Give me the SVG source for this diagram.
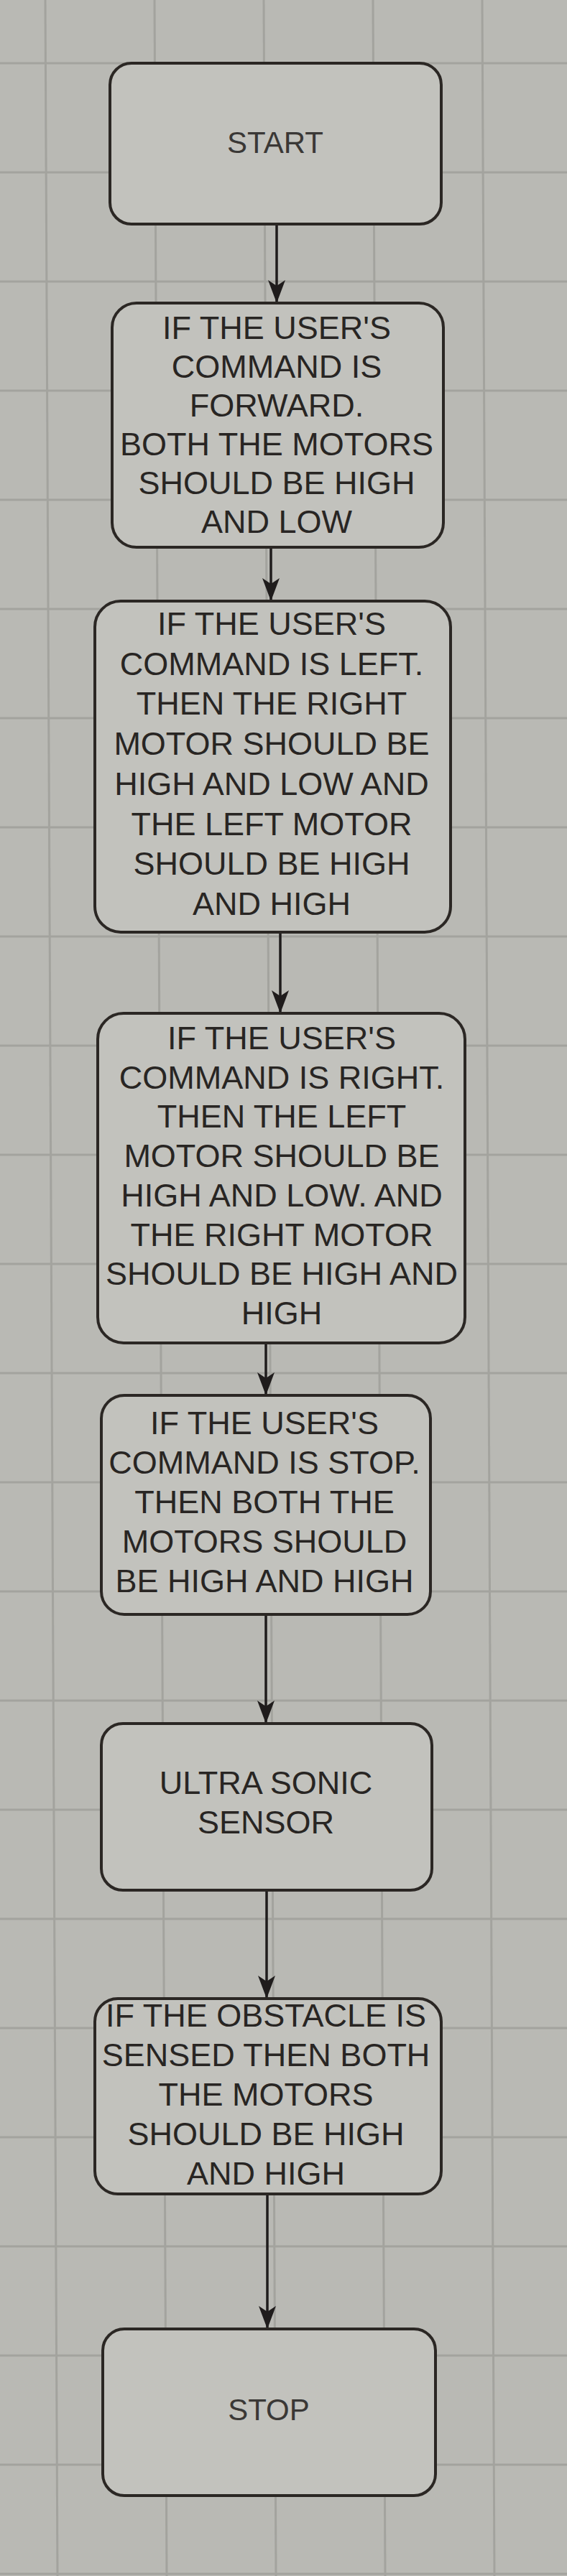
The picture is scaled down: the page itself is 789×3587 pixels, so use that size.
<svg xmlns="http://www.w3.org/2000/svg" width="789" height="3587" viewBox="0 0 789 3587">
<defs>
<style>
.bg{fill:#b9b9b4}
.grid line{stroke:#a3a39e;stroke-width:3}
.box{fill:#c2c2bd;stroke:#2b2724;stroke-width:4}
.t{font-family:"Liberation Sans",Arial,sans-serif;font-size:45px;fill:#282523;text-anchor:middle}
.s{font-size:42px;fill:#3a3836}
.conn line{stroke:#1f1c1c;stroke-width:3.5;fill:none}
</style>
<marker id="ah" markerUnits="userSpaceOnUse" viewBox="0 -13 33 26" refX="32" refY="0" markerWidth="33" markerHeight="26" orient="auto">
<path d="M0,-12 L32,0 L0,12 L8,0 Z" fill="#1f1c1c"/>
</marker>
</defs>
<rect class="bg" x="0" y="0" width="789" height="3587"/>
<g class="grid">
<line x1="63" y1="0" x2="80" y2="3587"/>
<line x1="215" y1="0" x2="232" y2="3587"/>
<line x1="367" y1="0" x2="384" y2="3587"/>
<line x1="519" y1="0" x2="536" y2="3587"/>
<line x1="671" y1="0" x2="688" y2="3587"/>
<line x1="0" y1="88" x2="789" y2="88"/>
<line x1="0" y1="240" x2="789" y2="240"/>
<line x1="0" y1="392" x2="789" y2="392"/>
<line x1="0" y1="544" x2="789" y2="544"/>
<line x1="0" y1="696" x2="789" y2="696"/>
<line x1="0" y1="848" x2="789" y2="848"/>
<line x1="0" y1="1000" x2="789" y2="1000"/>
<line x1="0" y1="1152" x2="789" y2="1152"/>
<line x1="0" y1="1304" x2="789" y2="1304"/>
<line x1="0" y1="1456" x2="789" y2="1456"/>
<line x1="0" y1="1608" x2="789" y2="1608"/>
<line x1="0" y1="1760" x2="789" y2="1760"/>
<line x1="0" y1="1912" x2="789" y2="1912"/>
<line x1="0" y1="2064" x2="789" y2="2064"/>
<line x1="0" y1="2216" x2="789" y2="2216"/>
<line x1="0" y1="2368" x2="789" y2="2368"/>
<line x1="0" y1="2520" x2="789" y2="2520"/>
<line x1="0" y1="2672" x2="789" y2="2672"/>
<line x1="0" y1="2824" x2="789" y2="2824"/>
<line x1="0" y1="2976" x2="789" y2="2976"/>
<line x1="0" y1="3128" x2="789" y2="3128"/>
<line x1="0" y1="3280" x2="789" y2="3280"/>
<line x1="0" y1="3432" x2="789" y2="3432"/>
<line x1="0" y1="3584" x2="789" y2="3584"/>
</g>
<g class="conn">
<line x1="385" y1="312" x2="385" y2="422" marker-end="url(#ah)"/>
<line x1="377" y1="762" x2="377" y2="837" marker-end="url(#ah)"/>
<line x1="390" y1="1298" x2="390" y2="1411" marker-end="url(#ah)"/>
<line x1="370" y1="1870" x2="370" y2="1943" marker-end="url(#ah)"/>
<line x1="370" y1="2248" x2="370" y2="2400" marker-end="url(#ah)"/>
<line x1="371" y1="2632" x2="371" y2="2783" marker-end="url(#ah)"/>
<line x1="372" y1="3055" x2="372" y2="3243" marker-end="url(#ah)"/>
</g>
<g id="start">
<rect class="box" x="153" y="88" width="461" height="224" rx="30"/>
<text class="t s" x="383" y="213">START</text>
</g>
<g id="forward">
<rect class="box" x="156" y="422" width="461" height="340" rx="34"/>
<text class="t" x="385" y="472">IF THE USER'S</text>
<text class="t" x="385" y="526">COMMAND IS</text>
<text class="t" x="385" y="580">FORWARD.</text>
<text class="t" x="385" y="634">BOTH THE MOTORS</text>
<text class="t" x="385" y="688">SHOULD BE HIGH</text>
<text class="t" x="385" y="742">AND LOW</text>
</g>
<g id="left">
<rect class="box" x="132" y="837" width="495" height="461" rx="36"/>
<text class="t" x="378" y="884">IF THE USER'S</text>
<text class="t" x="378" y="940">COMMAND IS LEFT.</text>
<text class="t" x="378" y="995">THEN THE RIGHT</text>
<text class="t" x="378" y="1051">MOTOR SHOULD BE</text>
<text class="t" x="378" y="1107">HIGH AND LOW AND</text>
<text class="t" x="378" y="1163">THE LEFT MOTOR</text>
<text class="t" x="378" y="1218">SHOULD BE HIGH</text>
<text class="t" x="378" y="1274">AND HIGH</text>
</g>
<g id="right">
<rect class="box" x="136" y="1411" width="511" height="459" rx="36"/>
<text class="t" x="392" y="1461">IF THE USER'S</text>
<text class="t" x="392" y="1516">COMMAND IS RIGHT.</text>
<text class="t" x="392" y="1570">THEN THE LEFT</text>
<text class="t" x="392" y="1625">MOTOR SHOULD BE</text>
<text class="t" x="392" y="1680">HIGH AND LOW. AND</text>
<text class="t" x="392" y="1735">THE RIGHT MOTOR</text>
<text class="t" x="392" y="1789">SHOULD BE HIGH AND</text>
<text class="t" x="392" y="1844">HIGH</text>
</g>
<g id="stopcmd">
<rect class="box" x="141" y="1943" width="458" height="305" rx="32"/>
<text class="t" x="368" y="1997">IF THE USER'S</text>
<text class="t" x="368" y="2052">COMMAND IS STOP.</text>
<text class="t" x="368" y="2107">THEN BOTH THE</text>
<text class="t" x="368" y="2162">MOTORS SHOULD</text>
<text class="t" x="368" y="2217">BE HIGH AND HIGH</text>
</g>
<g id="sensor">
<rect class="box" x="141" y="2400" width="460" height="232" rx="30"/>
<text class="t" x="370" y="2498">ULTRA SONIC</text>
<text class="t" x="370" y="2553">SENSOR</text>
</g>
<g id="obstacle">
<rect class="box" x="132" y="2783" width="482" height="272" rx="32"/>
<text class="t" x="370" y="2822">IF THE OBSTACLE IS</text>
<text class="t" x="370" y="2877">SENSED THEN BOTH</text>
<text class="t" x="370" y="2932">THE MOTORS</text>
<text class="t" x="370" y="2987">SHOULD BE HIGH</text>
<text class="t" x="370" y="3042">AND HIGH</text>
</g>
<g id="stop">
<rect class="box" x="143" y="3243" width="463" height="232" rx="30"/>
<text class="t s" x="374" y="3370">STOP</text>
</g>
</svg>
